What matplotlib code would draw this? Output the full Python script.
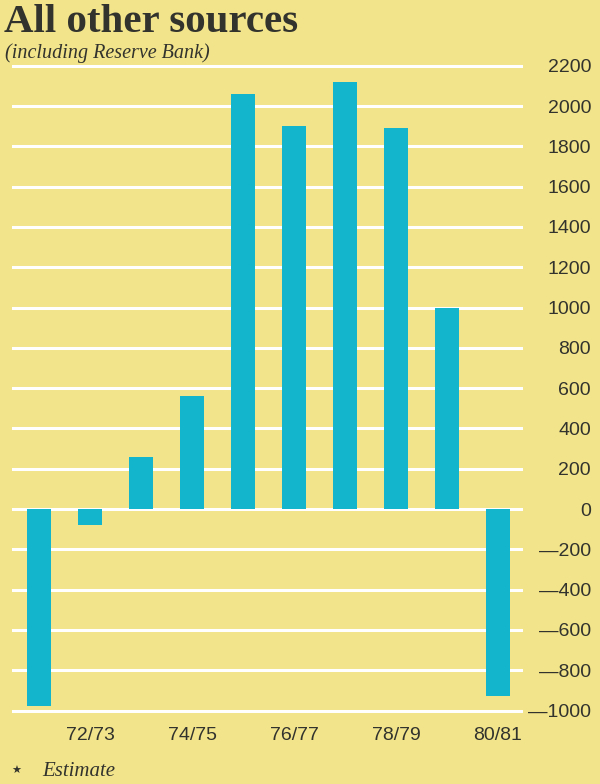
import matplotlib
matplotlib.use("Agg")
import matplotlib.pyplot as plt

years = ["71/72", "72/73", "73/74", "74/75", "75/76", "76/77", "77/78", "78/79", "79/80", "80/81"]
values = [-980, -80, 260, 560, 2060, 1900, 2120, 1890, 1000, -930]
shown_xticks = ["72/73", "74/75", "76/77", "78/79", "80/81"]
yticks = [2200, 2000, 1800, 1600, 1400, 1200, 1000, 800, 600, 400, 200, 0,
          -200, -400, -600, -800, -1000]

BG = "#F1E48A"
BAR = "#12B5CB"
TXT = "#33332E"

fig = plt.figure(figsize=(6, 7.84), dpi=100, facecolor=BG)
ax = fig.add_axes([0.02, 0.0809, 0.8517, 0.848])
ax.set_facecolor(BG)

xs = list(range(len(years)))
ax.bar(xs, values, width=0.47, color=BAR, zorder=3)
for v in yticks:
    ax.axhline(v, color="white", lw=2.2, zorder=1)

ax.set_xlim(-0.53, 9.49)
ax.set_ylim(-1050, 2250)

for s in ax.spines.values():
    s.set_visible(False)

ax.yaxis.tick_right()
ax.set_yticks(yticks)
ax.set_yticklabels([str(v) if v >= 0 else "\u2014" + str(-v) for v in yticks],
                   fontfamily="Liberation Sans", fontsize=14, color=TXT, ha="right")
ax.tick_params(axis="y", length=0, pad=49)

ax.set_xticks([years.index(t) for t in shown_xticks])
ax.set_xticklabels(shown_xticks, fontfamily="Liberation Sans", fontsize=14, color=TXT)
ax.tick_params(axis="x", length=0, pad=4.5)

fig.text(0.006, 0.9715, "All other sources", fontfamily="Liberation Serif",
         fontweight="bold", fontsize=29.5, color=TXT, va="center", ha="left")
fig.text(0.008, 0.9325, "(including Reserve Bank)", fontfamily="Liberation Serif",
         fontstyle="italic", fontsize=14.5, color=TXT, va="center", ha="left")
fig.text(0.018, 0.017, "\u2605", fontfamily="DejaVu Sans", fontsize=8, color=TXT,
         va="center", ha="left")
fig.text(0.07, 0.016, "Estimate", fontfamily="Liberation Serif",
         fontstyle="italic", fontsize=15, color=TXT, va="center", ha="left")

fig.savefig("out.png", dpi=100, facecolor=BG)
